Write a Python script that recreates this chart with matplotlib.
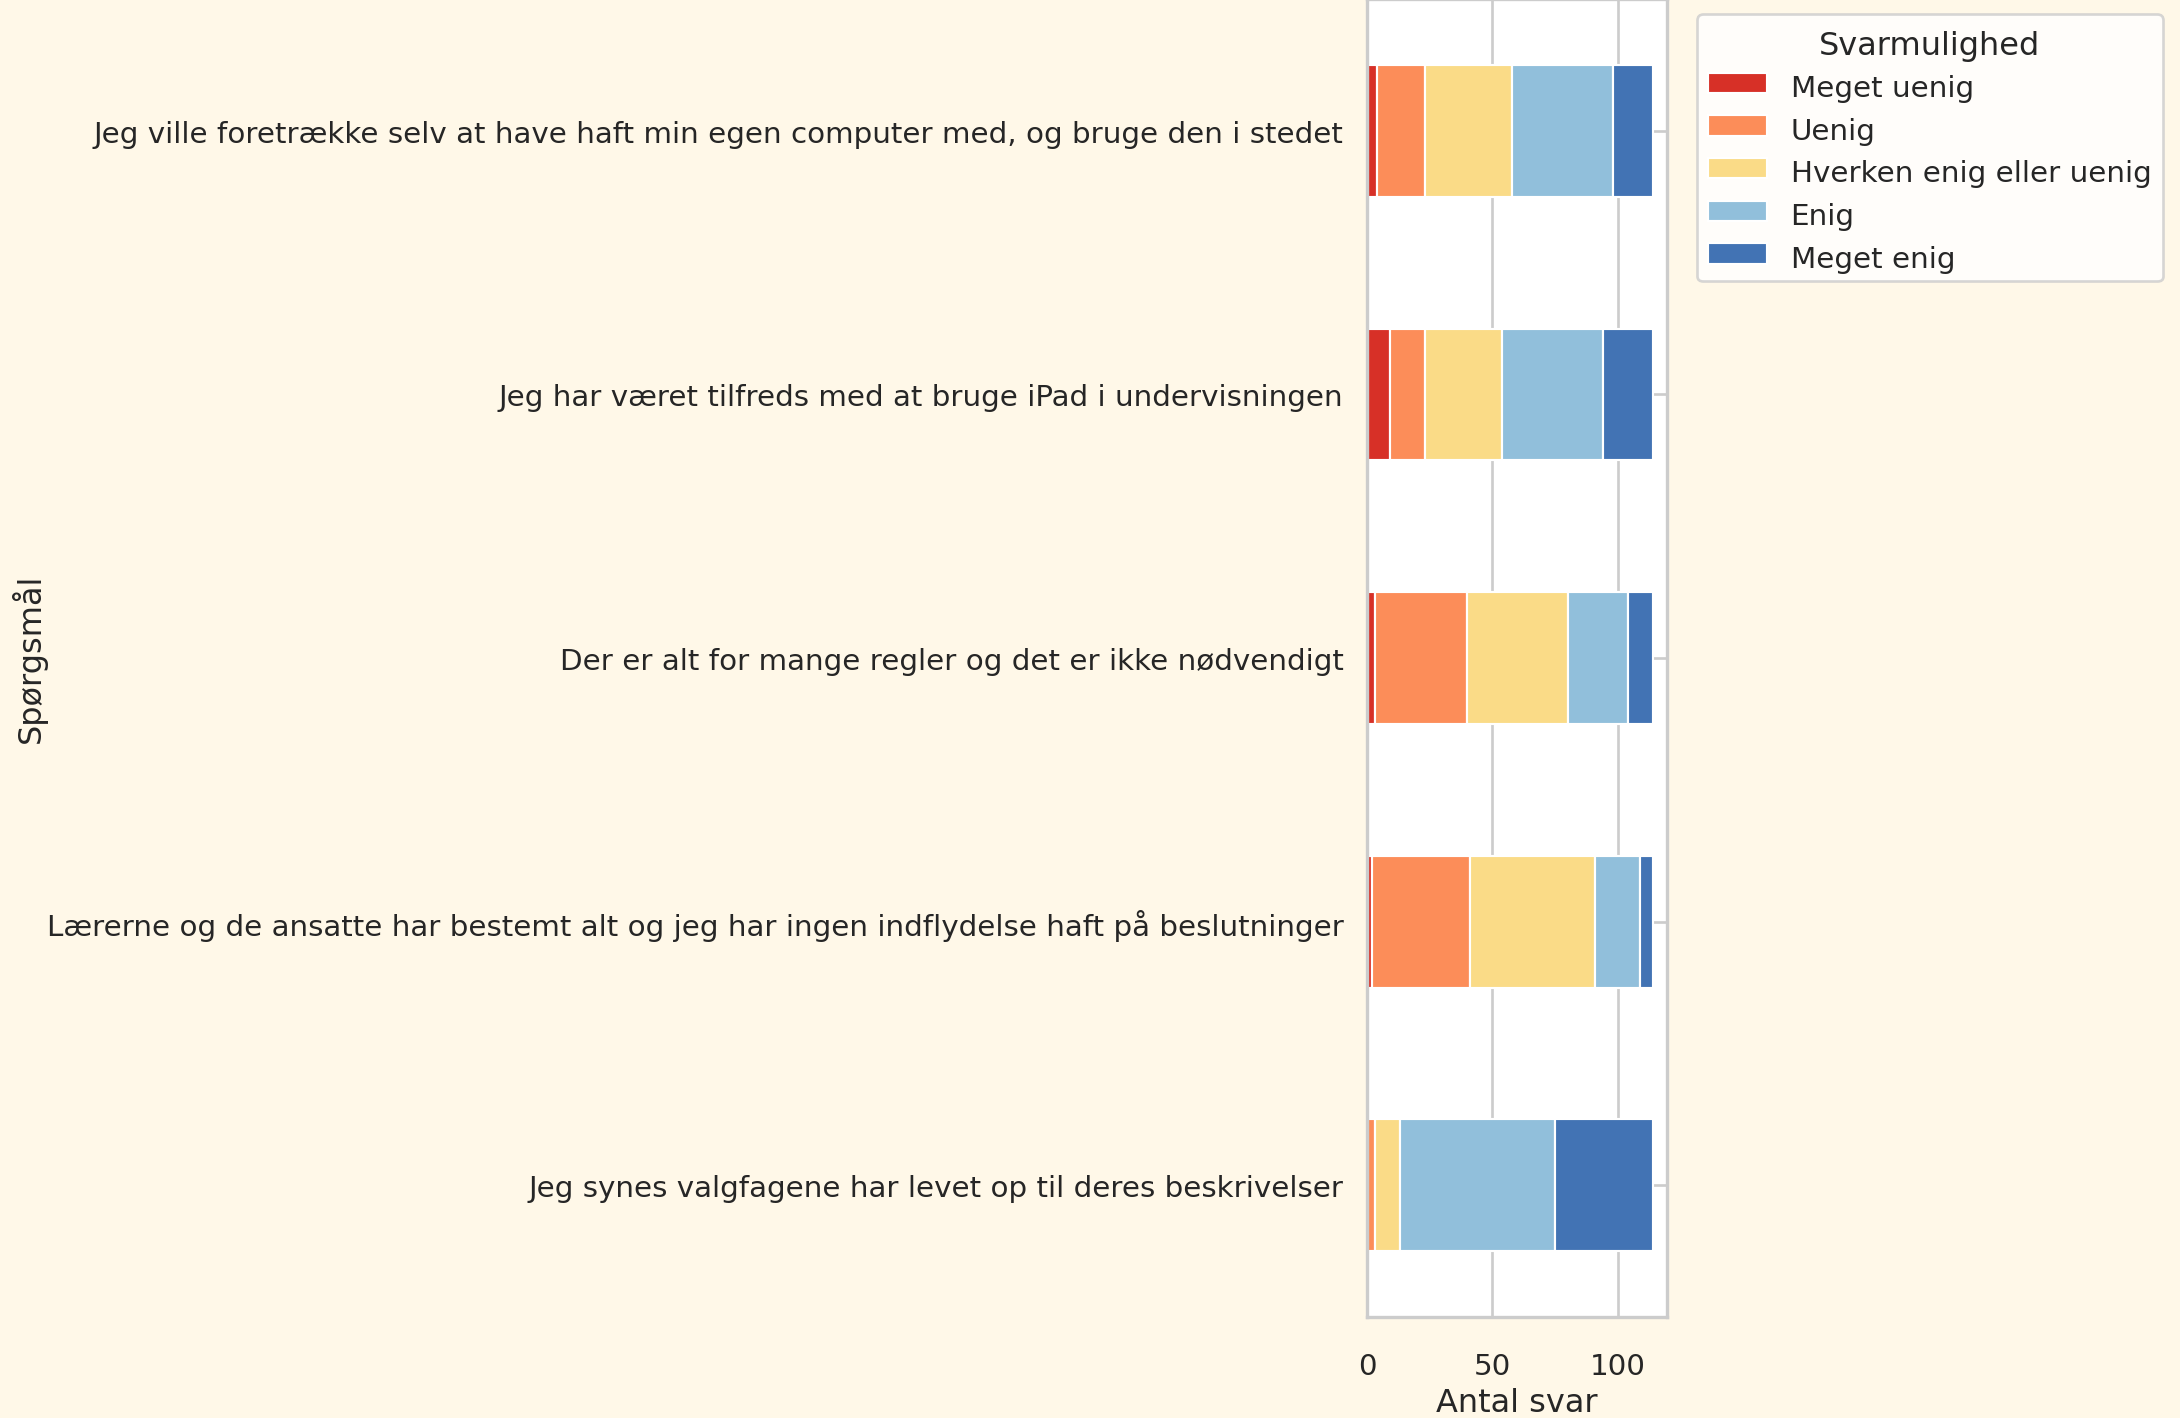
import matplotlib
matplotlib.use("Agg")
import matplotlib.pyplot as plt
import matplotlib.transforms as mtransforms
import numpy as np
import seaborn as sns

sns.set_theme(style="whitegrid")
plt.rcParams['font.family'] = ['DejaVu Sans']

questions = [
    "Jeg synes valgfagene har levet op til deres beskrivelser",
    "Lærerne og de ansatte har bestemt alt og jeg har ingen indflydelse haft på beslutninger",
    "Der er alt for mange regler og det er ikke nødvendigt",
    "Jeg har været tilfreds med at bruge iPad i undervisningen",
    "Jeg ville foretrække selv at have haft min egen computer med, og bruge den i stedet",
]
categories = ["Meget uenig", "Uenig", "Hverken enig eller uenig", "Enig", "Meget enig"]
meget_uenig = [0, 2, 3, 9, 4]
uenig = [3, 39, 37, 14, 19]
hverken = [10, 50, 40, 31, 35]
enig = [62, 18, 24, 40, 40]
meget_enig = [39, 5, 10, 20, 16]
series = [meget_uenig, uenig, hverken, enig, meget_enig]
colors = ["#d73027", "#fc8d59", "#fadb87", "#91bfdb", "#4273b4"]

DPI = 192
bg = "#fff8e8"
fig = plt.figure(figsize=(2180 / DPI, 1418 / DPI), dpi=DPI, facecolor=bg)
ax = fig.add_axes([1367/2180, 101/1418, 300/2180, 1318/1418])
ax.set_facecolor("white")

y = np.arange(len(questions))
left = np.zeros(len(questions))
for vals, lab, col in zip(series, categories, colors):
    v = np.array(vals, dtype=float)
    ax.barh(y, v, height=0.5, left=left, color=col, label=lab,
            edgecolor="white", linewidth=0.8)
    left += v

ax.set_ylim(-0.5, 4.5)
ax.set_xlim(0, left.max() * 1.05)
ax.set_xticks([0, 50, 100])
ax.set_yticks(y)
ax.set_yticklabels(questions, va="center")
ax.tick_params(axis="y", pad=2.8)
ax.tick_params(axis="x", pad=7.6)
ax.set_axisbelow(True)
ax.set_xlabel("Antal svar", labelpad=2.5)
ax.set_ylabel("Spørgsmål")
ax.yaxis.set_label_coords(-4.40, 0.5)
for s in ax.spines.values():
    s.set_color("#cccccc")
    s.set_linewidth(1.25)

shift = mtransforms.ScaledTranslation(0, -4 / DPI, fig.dpi_scale_trans)
for lbl in ax.get_yticklabels():
    lbl.set_transform(lbl.get_transform() + shift)

leg = ax.legend(title="Svarmulighed", bbox_to_anchor=(1.05, 1), loc="upper left")
leg.get_title().set_y(-6)
for t in leg.get_texts():
    t.set_y(-4)

fig.savefig("out.png", dpi=DPI, facecolor=bg)
